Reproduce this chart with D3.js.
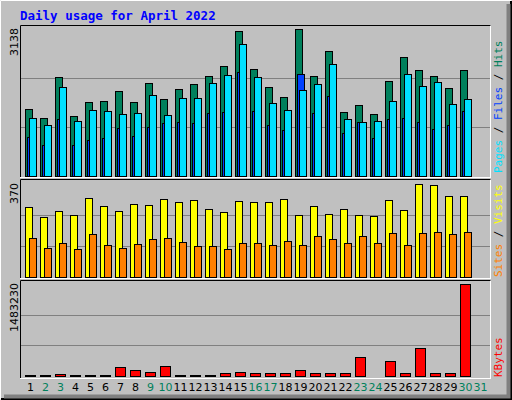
<!DOCTYPE html>
<html><head><meta charset="utf-8">
<script src="https://cdn.jsdelivr.net/npm/d3@7"></script>
<style>body{margin:0;background:#fff}svg{display:block}</style>
</head><body>
<script>
const days = d3.range(1,32);
const weekend = [2,3,9,10,16,17,23,24,30,31];
const hits  = [1430,1238,2114,1281,1580,1601,1815,1580,1986,1644,1857,1964,2135,2349,3096,2284,1900,1687,3138,2135,2669,1366,1516,1324,2028,2541,2263,2135,1879,2263,0];
const files = [1238,1089,1900,1174,1409,1388,1324,1345,1729,1302,1665,1665,1986,2156,2818,2114,1559,1409,1836,1964,2391,1217,1153,1174,1601,2178,1922,2007,1537,1644,0];
const pages = [833,662,1217,662,769,811,1025,854,1046,1132,1153,1132,1345,1366,2220,1388,1089,982,2178,1345,1708,918,1153,811,1217,1238,1153,1003,1089,1388,0];
const visits= [277,238,261,245,313,281,261,289,285,309,297,305,269,257,301,297,297,309,245,281,249,269,245,241,305,265,370,365,321,321,0];
const sites = [154,114,134,110,170,126,114,130,150,154,138,122,122,110,134,134,126,142,126,162,150,134,162,134,174,126,174,178,170,178,0];
const kbytes= [10000,10000,25000,10000,10000,10000,140000,92000,60000,156000,10000,10000,10000,43000,60000,43000,43000,43000,92000,43000,43000,43000,301000,8000,237000,43000,446000,43000,43000,1483230,0];
const maxHits = 3138, maxVisits = 370, maxK = 1483230;

const W=512,H=400;
const svg=d3.select("body").append("svg").attr("width",W).attr("height",H);
svg.append("rect").attr("width",W).attr("height",H).attr("fill","#c0c0c0");
// 3D frame
svg.append("path").attr("d","M0.5,399.5V0.5H511.5").attr("stroke","#fff").attr("fill","none");
svg.append("path").attr("d","M1,399H511V1").attr("stroke","#000").attr("stroke-width",2).attr("fill","none");
svg.append("path").attr("d","M4,396.5H508.5V4").attr("stroke","#808080").attr("stroke-width",4).attr("fill","none");

svg.append("text").attr("x",20).attr("y",20).text("Daily usage for April 2022")
 .attr("font-family","'DejaVu Sans Mono',monospace").attr("font-weight","bold").attr("font-size",12.5).attr("fill","#0000ff");

const x=d3.scaleLinear().domain([1,32]).range([25,490]);
const f="'DejaVu Sans',sans-serif";

function panel(y0,y1,base,top,max){
  svg.append("rect").attr("x",20.5).attr("y",y0+0.5).attr("width",470).attr("height",y1-y0).attr("fill","#c0c0c0").attr("stroke","#fff");
  svg.append("path").attr("d",`M20.5,${y1}V${y0+0.5}H490.5`).attr("stroke","#000").attr("fill","none");
  const y=d3.scaleLinear().domain([0,max]).range([base,top]);
  [1/3,2/3].forEach(t=>svg.append("line").attr("x1",21).attr("x2",490).attr("y1",Math.round(y(max*t))+0.5).attr("y2",Math.round(y(max*t))+0.5).attr("stroke","#808080"));
  return y;
}
function bars(data,y,off,w,color){
  svg.append("g").selectAll("rect").data(data).join("rect")
   .attr("x",(d,i)=>x(days[i])+off+0.5).attr("width",w)
   .attr("y",d=>Math.round(y(d))+0.5).attr("height",d=>Math.max(0,y.range()[0]-Math.round(y(d))))
   .attr("fill",color).attr("stroke","#000").attr("display",d=>d>0?null:"none");
}
function ylab(txt,xx,ytop){
  svg.append("text").attr("transform",`translate(${xx},${ytop}) rotate(-90)`).attr("text-anchor","end")
   .attr("font-family",f).attr("font-size",11).attr("fill","#000").text(txt);
}
function rlab(parts,xx,ybot){
  const t=svg.append("text").attr("transform",`translate(${xx},${ybot}) rotate(-90)`)
   .attr("font-family","'DejaVu Sans Mono',monospace").attr("font-size",11);
  parts.forEach(p=>t.append("tspan").attr("fill",p[1]).text(p[0]));
}

const y1=panel(25,177,176,29,maxHits);
bars(hits,y1,0,7,"#00805c");
bars(pages,y1,2,7,"#0040ff");
bars(files,y1,4,7,"#00e0ff");
ylab("3138",18,28);
rlab([["Pages","#00e0ff"],[" / ","#000"],["Files","#0040ff"],[" / ","#000"],["Hits","#00805c"]],502,173);

const y2=panel(179,278,277,184,maxVisits);
bars(visits,y2,0,7,"#ffff00");
bars(sites,y2,4,7,"#ff8000");
ylab("370",18,183);
rlab([["Sites","#ff8000"],[" / ","#000"],["Visits","#ffff00"]],502,277);

const y3=panel(280,378,376,284,maxK);
bars(kbytes,y3,0,10,"#ff0000");
ylab("1483230",18,283);
rlab([["KBytes","#ff0000"]],502,377);

svg.append("g").selectAll("text").data(days).join("text")
 .attr("x",d=>x(d)+5.5).attr("y",391).attr("text-anchor","middle")
 .attr("font-family",f).attr("font-size",11)
 .attr("fill",d=>weekend.includes(d)?"#00805c":"#000").text(d=>d);
</script>
</body></html>
